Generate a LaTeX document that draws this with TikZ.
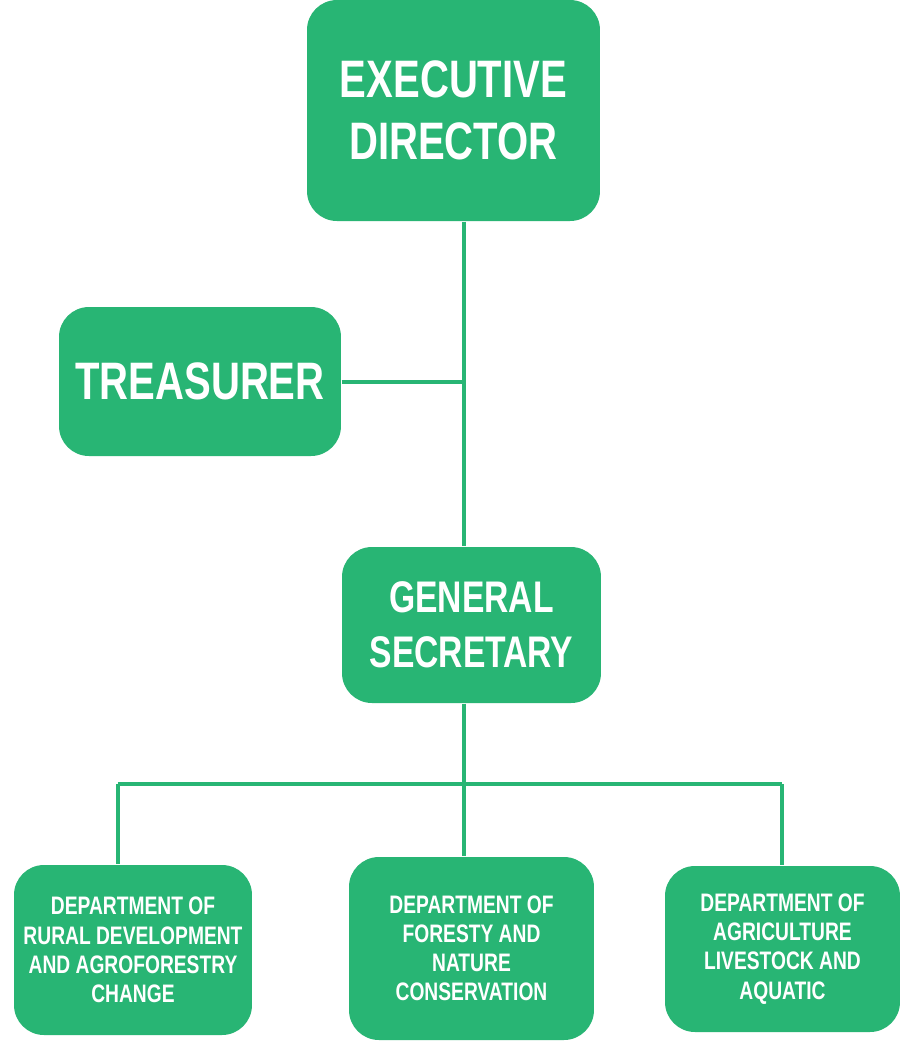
\documentclass[tikz,border=0pt]{standalone}
\usepackage{fontspec}
\newfontfamily\orgfont{Liberation Sans}[FakeStretch=0.76]
\definecolor{orggreen}{RGB}{40,181,116}
\tikzset{
 orgbox/.style={fill=orggreen,rounded corners=3mm,text=white,align=center,
   inner sep=0pt,font=\orgfont\bfseries},
 bigtext/.style={font=\orgfont\bfseries\fontsize{15}{17.5}\selectfont},
 midtext/.style={font=\orgfont\bfseries\fontsize{12.6}{15.6}\selectfont},
 smalltext/.style={font=\orgfont\bfseries\fontsize{7.2}{8.3}\selectfont},
 link/.style={draw=orggreen,line width=0.4mm}
}
\begin{document}
\begin{tikzpicture}[x=0.1mm,y=-0.1mm]
 \useasboundingbox[fill=white] (0,0) rectangle (900,1060);
 \node[orgbox,bigtext,minimum width=29.3mm,minimum height=22.1mm] (exec) at (453.5,110.5) {EXECUTIVE\\DIRECTOR};
 \node[orgbox,bigtext,minimum width=28.2mm,minimum height=14.9mm] (treas) at (200,381.5) {TREASURER};
 \node[orgbox,midtext,minimum width=25.9mm,minimum height=15.6mm] (gensec) at (471.5,625) {GENERAL\\SECRETARY};
 \node[orgbox,smalltext,minimum width=23.8mm,minimum height=17mm] (rural) at (133,950) {DEPARTMENT OF\\RURAL DEVELOPMENT\\AND AGROFORESTRY\\CHANGE};
 \node[orgbox,smalltext,minimum width=24.5mm,minimum height=18.3mm] (forest) at (471.5,948.5) {DEPARTMENT OF\\FORESTY AND\\NATURE\\CONSERVATION};
 \node[orgbox,smalltext,minimum width=23.5mm,minimum height=16.6mm] (agri) at (782.5,949) {DEPARTMENT OF\\AGRICULTURE\\LIVESTOCK AND\\AQUATIC};
 % spine, bus and drops
 \coordinate (spine) at (464,0);
 \coordinate (leftdrop) at (118,0);
 \coordinate (bus) at (0,784);
 \draw[link] (exec.south -| spine) -- (gensec.north -| spine);
 \draw[link] (treas.east) -- (treas.east -| spine);
 \draw[link] (gensec.south -| spine) -- (forest.north -| spine);
 \draw[link] (bus -| leftdrop) -- (bus -| agri.north);
 \draw[link] (bus -| leftdrop) -- (rural.north -| leftdrop);
 \draw[link] (bus -| agri.north) -- (agri.north);
\end{tikzpicture}
\end{document}
